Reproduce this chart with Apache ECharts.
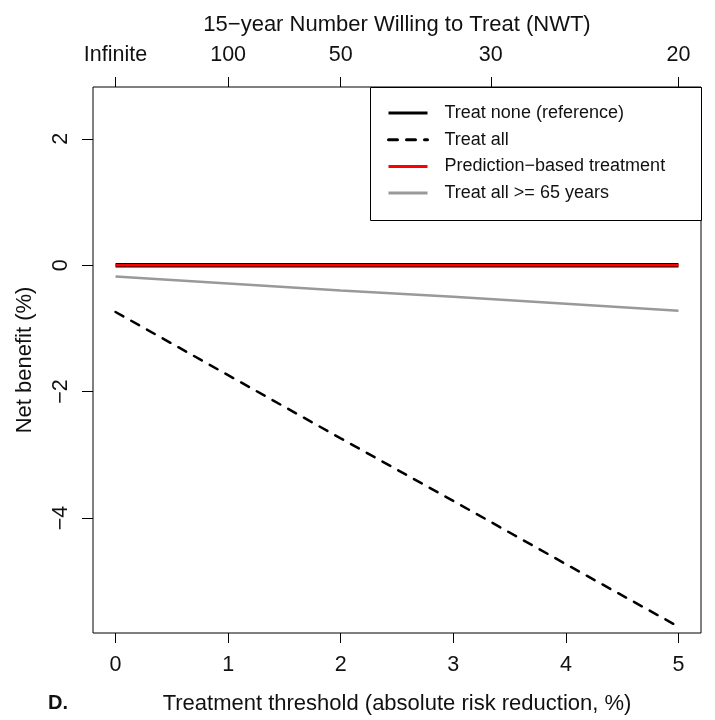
<!DOCTYPE html>
<html>
<head>
<meta charset="utf-8">
<script src="https://cdn.jsdelivr.net/npm/echarts@6/dist/echarts.min.js"></script>
<style>
  html, body { margin: 0; padding: 0; background: #fff; }
  #chart { width: 715px; height: 720px; }
</style>
</head>
<body>
<div id="chart"></div>
<script>
// treatment threshold (ARR, %)
var thresholds = [0, 1, 2, 3, 4, 5];
// net benefit (%) per strategy
var treatNone = [0, 0, 0, 0, 0, 0];
var treatAll = [-0.74, -1.74, -2.74, -3.73, -4.73, -5.72];
var predBased = [0, 0, 0, 0, 0, 0];
var treatOld = [-0.18, -0.29, -0.40, -0.50, -0.61, -0.72];

var xTicks = [0, 1, 2, 3, 4, 5];
var yTicks = [-4, -2, 0, 2];
// top axis: NWT = 100 / threshold
var nwtPos = [0, 1, 2, 3.333, 5];
var nwtLabels = ['Infinite', '100', '50', '30', '20'];

var font = 'Liberation Sans, Arial, Helvetica, sans-serif';

var pairs = function (ys) {
    return thresholds.map(function (x, i) { return [x, ys[i]]; });
};

var myChart = echarts.init(document.getElementById('chart'));
myChart.setOption({
    animation: false,
    grid: {
        left: 93, right: 14, top: 87, bottom: 87,
        show: true, borderColor: '#000', borderWidth: 1, backgroundColor: 'transparent'
    },
    legend: {
        left: 387, top: 104, orient: 'vertical', z: 20,
        padding: 0, itemWidth: 39, itemHeight: 14, itemGap: 8.7,
        selectedMode: false,
        itemStyle: { opacity: 0 },
        lineStyle: { width: 3 },
        textStyle: { fontFamily: font, fontSize: 18, color: '#111', lineHeight: 18, padding: [0, 0, 0, 12] },
        data: ['Treat none (reference)', 'Treat all', 'Prediction\u2212based treatment', 'Treat all >= 65 years']
    },
    graphic: [{
        type: 'rect', left: 370, top: 87, z: 5,
        shape: { width: 331, height: 133 },
        style: { fill: '#fff', stroke: '#000', lineWidth: 1 }
    }, {
        type: 'text', left: 48, top: 693, z: 100,
        style: { text: 'D.', font: 'bold 20px ' + font, fill: '#111' }
    }],
    xAxis: [{
        type: 'value', position: 'bottom', min: -0.2, max: 5.2,
        splitLine: { show: false },
        axisLine: { show: false, onZero: false },
        axisTick: { show: true, length: 10, customValues: xTicks, lineStyle: { color: '#000' } },
        axisLabel: { customValues: xTicks, margin: 21, fontFamily: font, fontSize: 21.5, color: '#111' },
        name: 'Treatment threshold (absolute risk reduction, %)',
        nameLocation: 'middle', nameGap: 60,
        nameTextStyle: { fontFamily: font, fontSize: 22, color: '#111' }
    }, {
        type: 'value', position: 'top', min: -0.2, max: 5.2,
        splitLine: { show: false },
        axisLine: { show: false, onZero: false },
        axisTick: { show: true, length: 10, customValues: nwtPos, lineStyle: { color: '#000' } },
        axisLabel: {
            customValues: nwtPos, margin: 21, fontFamily: font, fontSize: 21.5, color: '#111',
            formatter: function (v) {
                var i = nwtPos.indexOf(v);
                return i >= 0 ? nwtLabels[i] : '';
            }
        },
        name: '15\u2212year Number Willing to Treat (NWT)',
        nameLocation: 'middle', nameGap: 51,
        nameTextStyle: { fontFamily: font, fontSize: 22, color: '#111' }
    }],
    yAxis: {
        type: 'value', min: -5.82, max: 2.82,
        splitLine: { show: false },
        axisLine: { show: false, onZero: false },
        axisTick: { show: true, length: 11, customValues: yTicks, lineStyle: { color: '#000' } },
        axisLabel: {
            customValues: yTicks, rotate: 90, margin: 21, fontFamily: font, fontSize: 21.5, color: '#111',
            formatter: function (v) { return String(v).replace('-', '\u2212'); }
        },
        name: 'Net benefit (%)',
        nameLocation: 'middle', nameGap: 57,
        nameTextStyle: { fontFamily: font, fontSize: 22, color: '#111' }
    },
    series: [{
        name: 'Treat none (reference)', type: 'line', symbol: 'none',
        data: pairs(treatNone),
        lineStyle: { color: '#000', width: 4.5 }, itemStyle: { color: '#000' }, z: 2
    }, {
        name: 'Treat all', type: 'line', symbol: 'none',
        data: pairs(treatAll),
        lineStyle: { color: '#000', width: 2.5, type: [9, 9], cap: 'round' }, itemStyle: { color: '#000' }, z: 2
    }, {
        name: 'Prediction\u2212based treatment', type: 'line', symbol: 'none',
        data: pairs(predBased),
        lineStyle: { color: '#f00', width: 2.5 }, itemStyle: { color: '#f00' }, z: 3
    }, {
        name: 'Treat all >= 65 years', type: 'line', symbol: 'none',
        data: pairs(treatOld),
        lineStyle: { color: '#999', width: 2.5 }, itemStyle: { color: '#999' }, z: 2
    }]
});
</script>
</body>
</html>
